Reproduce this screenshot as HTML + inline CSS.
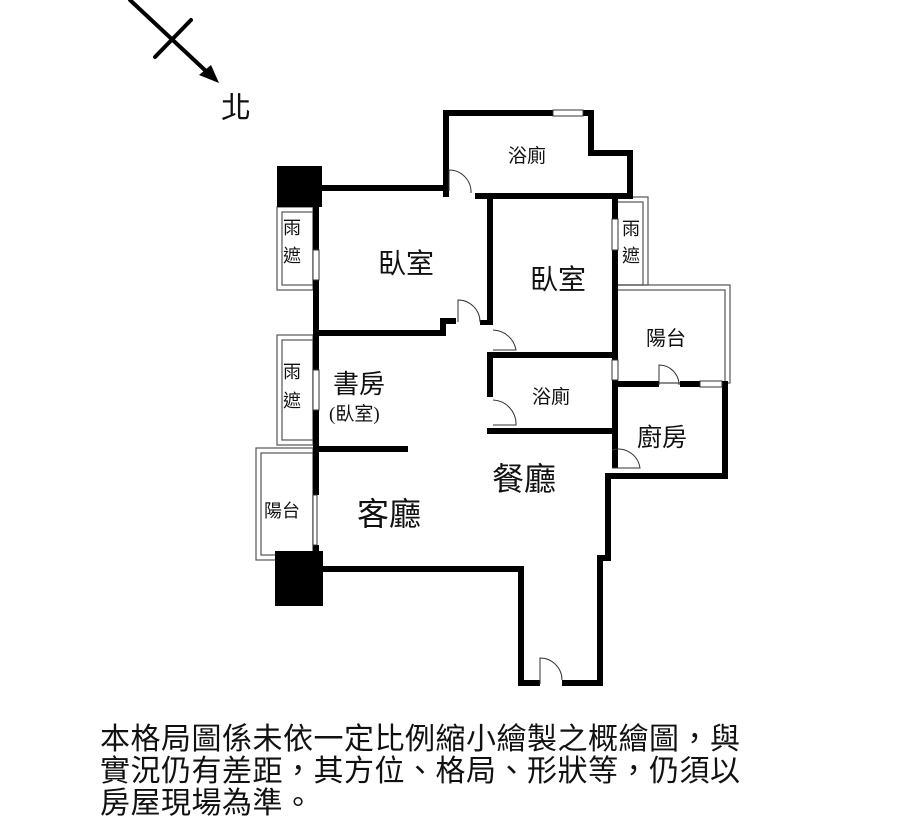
<!DOCTYPE html>
<html><head><meta charset="utf-8"><style>
html,body{margin:0;padding:0;background:#fff;}
svg{display:block}
.t{font-family:"Liberation Serif","Noto Sans CJK TC","Noto Serif CJK SC",serif;fill:#111}
</style></head><body>
<svg width="900" height="826" viewBox="0 0 900 826" xmlns="http://www.w3.org/2000/svg">
<g stroke="#000" stroke-width="4" stroke-linecap="round">
<line x1="130" y1="0" x2="208" y2="73"/>
<line x1="155" y1="57" x2="191" y2="20"/>
</g>
<polygon points="219,83 199,75 211,65" fill="#000"/>
<text x="221" y="118" class="t" font-size="30">北</text>

<g fill="none" stroke="#555" stroke-width="1.2">
<rect x="277" y="207" width="36" height="83"/>
<rect x="282" y="212" width="31" height="73"/>
<rect x="277" y="335" width="36" height="110"/>
<rect x="282" y="340" width="31" height="100"/>
<rect x="256" y="448" width="57" height="112"/>
<rect x="261" y="453" width="52" height="102"/>
<rect x="617" y="197" width="31" height="88"/>
<rect x="617" y="202" width="26" height="83"/>
<rect x="617" y="285" width="113" height="98"/>
<rect x="617" y="290" width="108" height="93"/>
</g>

<rect x="277" y="166" width="45" height="41" fill="#000"/>
<rect x="275" y="551" width="48" height="55" fill="#000"/>

<g fill="#000">
<rect x="443" y="110" width="6" height="87"/>
<rect x="443" y="110" width="149" height="6"/>
<rect x="588" y="110" width="6" height="46"/>
<rect x="588" y="150" width="44" height="6"/>
<rect x="627" y="150" width="6" height="48"/>
<rect x="318" y="185" width="130" height="6"/>
<rect x="475" y="193" width="158" height="6"/>
<rect x="313" y="185" width="6" height="65"/>
<rect x="313" y="280" width="6" height="215"/>
<rect x="313" y="330" width="130" height="6"/>
<rect x="440" y="318" width="6" height="18"/>
<rect x="440" y="318" width="16" height="6"/>
<rect x="487" y="197" width="6" height="128"/>
<rect x="480" y="320" width="12" height="5"/>
<rect x="612" y="197" width="6" height="22"/>
<rect x="612" y="250" width="6" height="110"/>
<rect x="612" y="380" width="6" height="88"/>
<rect x="487" y="352" width="125" height="6"/>
<rect x="487" y="352" width="6" height="45"/>
<rect x="487" y="428" width="125" height="6"/>
<rect x="617" y="381" width="42" height="6"/>
<rect x="680" y="381" width="20" height="6"/>
<rect x="722" y="381" width="6" height="97"/>
<rect x="607" y="473" width="121" height="6"/>
<rect x="318" y="446" width="90" height="6"/>
<rect x="313" y="545" width="6" height="20"/>
<rect x="318" y="566" width="32" height="6"/>
<rect x="345" y="566" width="178" height="6"/>
<rect x="518" y="566" width="6" height="120"/>
<rect x="518" y="680" width="22" height="6"/>
<rect x="562" y="680" width="40" height="6"/>
<rect x="597" y="555" width="6" height="131"/>
<rect x="597" y="555" width="12" height="6"/>
<rect x="605" y="473" width="6" height="88"/>
</g>

<g fill="#fff" stroke="#333" stroke-width="1">
<rect x="553" y="110" width="30" height="6"/>
<rect x="313" y="250" width="6" height="30"/>
<rect x="313" y="370" width="6" height="40"/>
<rect x="313" y="495" width="4" height="50"/>
<rect x="612" y="219" width="6" height="31"/>
<rect x="612" y="360" width="6" height="20"/>
<rect x="700" y="381" width="22" height="6"/>
</g>

<g fill="none" stroke="#333" stroke-width="1">
<path d="M449 191 L449 170 A22 22 0 0 1 471 193"/>
<path d="M458 322 L458 300 A22 22 0 0 1 480 322"/>
<path d="M493 330 A24 24 0 0 1 516 350 L493 350"/>
<path d="M493 400 A24 24 0 0 1 516 425 L493 425"/>
<path d="M659 385 L659 365 A20 20 0 0 1 679 385"/>
<path d="M612 450 A22 22 0 0 1 640 468 L612 468"/>
<path d="M540 684 L540 658 A22 22 0 0 1 562 680"/>
</g>

<g class="t">
<text x="508" y="162" font-size="19">浴廁</text>
<text x="378" y="273" font-size="28">臥室</text>
<text x="530" y="289" font-size="28">臥室</text>
<text x="283" y="234" font-size="18">雨</text>
<text x="283" y="262" font-size="18">遮</text>
<text x="622" y="235" font-size="18">雨</text>
<text x="622" y="262" font-size="18">遮</text>
<text x="283" y="378" font-size="18">雨</text>
<text x="283" y="407" font-size="18">遮</text>
<text x="646" y="345" font-size="20">陽台</text>
<text x="333" y="393" font-size="26">書房</text>
<text x="329" y="420" font-size="19">(臥室)</text>
<text x="532" y="403" font-size="19">浴廁</text>
<text x="637" y="446" font-size="25">廚房</text>
<text x="492" y="490" font-size="32">餐廳</text>
<text x="357" y="525" font-size="32">客廳</text>
<text x="264" y="517" font-size="18">陽台</text>
</g>

<g class="t" font-size="30" letter-spacing="0.5">
<text x="100" y="749">本格局圖係未依一定比例縮小繪製之概繪圖，與</text>
<text x="100" y="781">實況仍有差距，其方位、格局、形狀等，仍須以</text>
<text x="100" y="813">房屋現場為準。</text>
</g>
</svg>
</body></html>
